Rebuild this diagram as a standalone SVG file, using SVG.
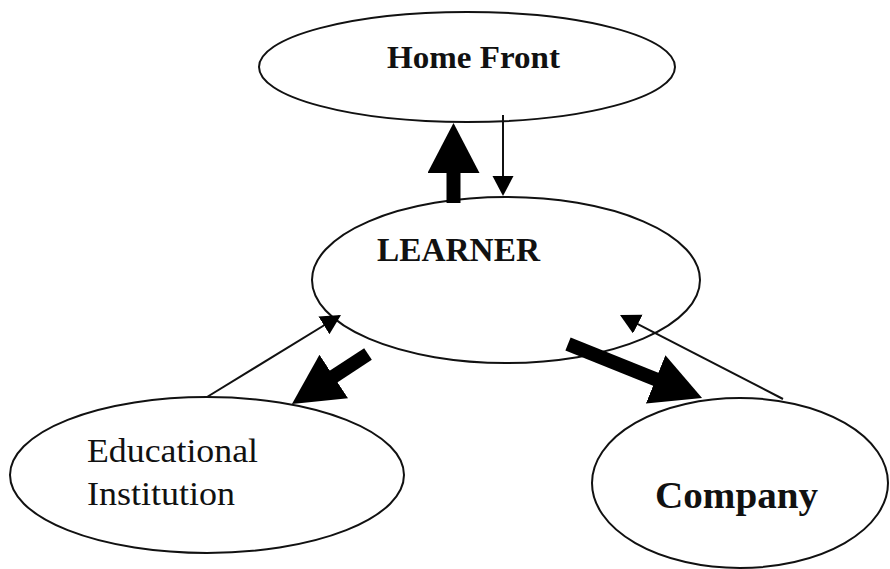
<svg xmlns="http://www.w3.org/2000/svg" width="890" height="569" viewBox="0 0 890 569">
<style>
.node ellipse{fill:#fff;stroke:#111;stroke-width:2}
.lbl{font-family:"Liberation Serif","Times New Roman",serif;fill:#111}
.b{font-weight:bold}
.thick{stroke:#000;stroke-width:14;fill:none;marker-end:url(#bigHead)}
.thin{stroke:#111;stroke-width:2;fill:none;marker-end:url(#smallHead)}
</style>
<defs>
<marker id="bigHead" markerUnits="userSpaceOnUse" markerWidth="52" markerHeight="54" refX="4" refY="26" orient="auto" viewBox="0 0 52 54">
<path d="M0,0 L50,26 L0,52 z" fill="#000"/>
</marker>
<marker id="smallHead" markerUnits="userSpaceOnUse" markerWidth="22" markerHeight="22" refX="18" refY="10.5" orient="auto" viewBox="0 0 22 22">
<path d="M0,0 L20,10.5 L0,21 z" fill="#000"/>
</marker>
</defs>
<rect width="890" height="569" fill="#fff"/>
<g id="home-front" class="node">
<ellipse cx="467" cy="67" rx="208" ry="55"/>
<text class="lbl b" x="387" y="68" font-size="32" textLength="173" lengthAdjust="spacingAndGlyphs">Home Front</text>
</g>
<g id="learner" class="node">
<ellipse cx="506" cy="280" rx="194" ry="83"/>
<text class="lbl b" x="377" y="261" font-size="33" textLength="163" lengthAdjust="spacingAndGlyphs">LEARNER</text>
</g>
<g id="educational-institution" class="node">
<ellipse cx="207" cy="475" rx="197" ry="78"/>
<text class="lbl" x="87" y="462" font-size="33" textLength="171" lengthAdjust="spacingAndGlyphs">Educational</text>
<text class="lbl" x="87" y="505" font-size="33" textLength="148" lengthAdjust="spacingAndGlyphs">Institution</text>
</g>
<g id="company" class="node">
<ellipse cx="740" cy="483" rx="148" ry="85"/>
<text class="lbl b" x="655" y="508" font-size="38" textLength="163" lengthAdjust="spacingAndGlyphs">Company</text>
</g>
<g id="connectors">
<line class="thick" x1="453.5" y1="203" x2="453.5" y2="169"/>
<line class="thin" x1="503" y1="115" x2="503" y2="194"/>
<line class="thin" x1="207" y1="397" x2="339.3" y2="316"/>
<line class="thick" x1="368" y1="354" x2="330.4" y2="378.7"/>
<line class="thick" x1="568" y1="344" x2="659.4" y2="380.8"/>
<line class="thin" x1="783" y1="399" x2="621.8" y2="315.9"/>
</g>
</svg>
